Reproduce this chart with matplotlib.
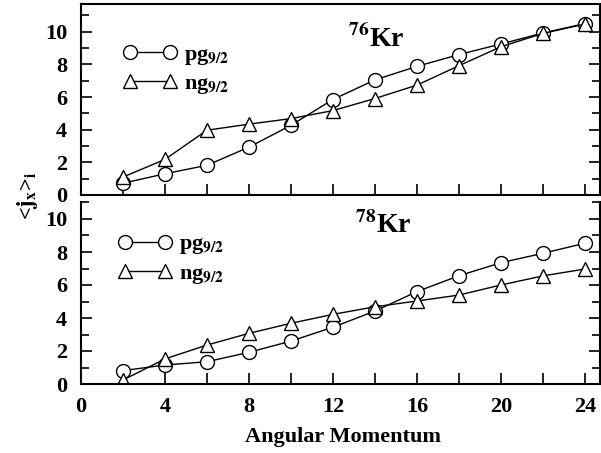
import numpy as np
import matplotlib
matplotlib.use("Agg")
import matplotlib.pyplot as plt
from matplotlib.ticker import MultipleLocator

plt.rcParams['font.family'] = ['Liberation Serif', 'DejaVu Serif']
plt.rcParams['font.weight'] = 'bold'
plt.rcParams['mathtext.fontset'] = 'stix'

spin = [2, 4, 6, 8, 10, 12, 14, 16, 18, 20, 22, 24]

# 76Kr
kr76_pg = [0.72, 1.3, 1.82, 2.93, 4.27, 5.85, 7.05, 7.88, 8.6, 9.25, 9.92, 10.5]
kr76_ng = [1.1, 2.18, 3.97, 4.34, 4.68, 5.17, 5.91, 6.73, 7.92, 9.08, 9.9, 10.47]

# 78Kr
kr78_pg = [0.81, 1.15, 1.35, 1.92, 2.6, 3.44, 4.42, 5.6, 6.56, 7.35, 7.92, 8.53]
kr78_ng = [0.24, 1.52, 2.36, 3.07, 3.68, 4.22, 4.68, 5.03, 5.39, 6.0, 6.55, 6.97]

fig = plt.figure(figsize=(6.01, 4.53), dpi=100)
W, H = 601, 453
left = 81 / W
width = 519 / W
ax_top = fig.add_axes([left, 1 - 195 / H, width, 191 / H])
ax_bot = fig.add_axes([left, 1 - 384 / H, width, 181.5 / H])

def style(ax, ymax):
    ax.set_xlim(0, 24.72)
    ax.set_ylim(0, ymax)
    ax.xaxis.set_major_locator(MultipleLocator(4))
    ax.xaxis.set_minor_locator(MultipleLocator(2))
    ax.yaxis.set_major_locator(MultipleLocator(2))
    ax.yaxis.set_minor_locator(MultipleLocator(1))
    ax.tick_params(which='both', direction='in', top=False, right=True,
                   width=1.2, labelsize=16)
    ax.tick_params(which='major', length=8)
    ax.tick_params(which='minor', length=6)
    ax.tick_params(axis='x', which='minor', length=8)
    ax.tick_params(axis='y', pad=10)
    ax.tick_params(axis='x', pad=9)
    for s in ax.spines.values():
        s.set_linewidth(1.5)
    ax.set_yticks([0, 2, 4, 6, 8, 10])

style(ax_top, 11.7)
style(ax_bot, 11.0)
ax_top.tick_params(axis='x', labelbottom=False)
ax_bot.spines['top'].set_visible(False)

mk = dict(color='black', lw=1, markersize=10, markerfacecolor='white',
          markeredgecolor='black', markeredgewidth=1)

for ax, pg, ng in [(ax_top, kr76_pg, kr76_ng), (ax_bot, kr78_pg, kr78_ng)]:
    ax.plot(spin, pg, marker='o', label=r'pg$_{\mathbf{9/2}}$', **mk)
    ax.plot(spin, ng, marker='^', label=r'ng$_{\mathbf{9/2}}$', **mk)

leg_kw = dict(frameon=False, numpoints=2, handlelength=2.4, handletextpad=0.35,
              labelspacing=0.3, borderpad=0, borderaxespad=0, fontsize=16,
              loc='upper left')
ax_top.legend(bbox_to_anchor=(0.081, 0.789), **leg_kw)
ax_bot.legend(bbox_to_anchor=(0.072, 0.827), **leg_kw)

ax_top.text(0.514, 0.776, r'$^{\mathbf{76}}$Kr', transform=ax_top.transAxes,
            fontsize=20, fontweight='bold', ha='left', va='baseline')
ax_bot.text(0.528, 0.832, r'$^{\mathbf{78}}$Kr', transform=ax_bot.transAxes,
            fontsize=20, fontweight='bold', ha='left', va='baseline')

fig.text(27 / W, 1 - 196 / H, r'<$\mathbf{j}_{\mathbf{x}}$>$_{\mathbf{i}}$',
         rotation=90, fontsize=16, fontweight='bold', ha='center', va='center')
fig.text(343 / W, 1 - 437 / H, 'Angular Momentum', fontsize=16,
         fontweight='bold', ha='center', va='center')

fig.savefig('out.png', dpi=100)
